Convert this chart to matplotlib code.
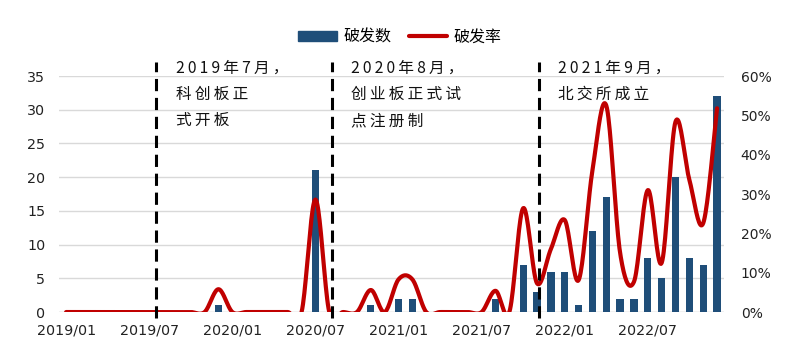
import matplotlib
matplotlib.use("Agg")
import matplotlib.pyplot as plt
import numpy as np
from matplotlib.lines import Line2D
from matplotlib.patches import Patch

plt.rcParams['font.family'] = ['Noto Sans CJK SC', 'DejaVu Sans']

# 2019/01 .. 2022/12, monthly
months = [f"{y}/{m:02d}" for y in range(2019, 2023) for m in range(1, 13)]
po_count = [0, 0, 0, 0, 0, 0, 0, 0, 0, 0, 0, 1,
            0, 0, 0, 0, 0, 0, 21, 0, 0, 0, 1, 0,
            2, 2, 0, 0, 0, 0, 0, 2, 0, 7, 3, 6,
            6, 1, 12, 17, 2, 2, 8, 5, 20, 8, 7, 32]
po_rate = [0, 0, 0, 0, 0, 0, 0, 0, 0, 0, 0, 5.8,
           0, 0, 0, 0, 0, 0, 28.6, 0, 0, 0, 5.6, 0,
           8.3, 8.3, 0, 0, 0, 0, 0, 5.4, 0, 26.4, 7.3, 16.0,
           23.4, 8.1, 36.0, 52.5, 15.0, 7.7, 31.0, 12.5, 48.4, 33.6, 22.6, 51.8]
tick_idx = list(range(0, 48, 6))
events = [(6.5, ["2019年7月，", "科创板正", "式开板"]),
          (19.2, ["2020年8月，", "创业板正式试", "点注册制"]),
          (34.15, ["2021年9月，", "北交所成立"])]

BLUE = "#1F4E79"
RED = "#C00000"


def smooth(x, y, n=20):
    # catmull-rom, like excel's smoothed line
    x = np.asarray(x, float)
    y = np.asarray(y, float)
    px = np.concatenate([[x[0]], x, [x[-1]]])
    py = np.concatenate([[y[0]], y, [y[-1]]])
    xs, ys = [], []
    t = np.linspace(0, 1, n, endpoint=False)
    for i in range(1, len(px) - 2):
        for p, out in ((px, xs), (py, ys)):
            p0, p1, p2, p3 = p[i - 1], p[i], p[i + 1], p[i + 2]
            out.extend(0.5 * (2 * p1 + (-p0 + p2) * t
                              + (2 * p0 - 5 * p1 + 4 * p2 - p3) * t ** 2
                              + (-p0 + 3 * p1 - 3 * p2 + p3) * t ** 3))
    xs.append(x[-1])
    ys.append(y[-1])
    return np.array(xs), np.array(ys)


def spaced(s):
    # the original text is letter-spaced
    return "\u2009".join(s)


fig = plt.figure(figsize=(8, 3.62), dpi=100)
ax = fig.add_axes([0.074, 0.138, 0.831, 0.652])
ax2 = ax.twinx()

x = np.arange(len(months))
ax.bar(x, po_count, width=0.53, color=BLUE, zorder=3)
ax.set_xlim(-0.5, 47.5)
ax.set_ylim(0, 35)
ax.set_yticks(range(0, 36, 5))
ax.grid(axis='y', color='#D9D9D9', lw=1, zorder=0)
ax.set_xticks(tick_idx)
ax.set_xticklabels([months[i] for i in tick_idx])
for s in ax.spines.values():
    s.set_visible(False)
for s in ax2.spines.values():
    s.set_visible(False)
ax.axhline(0, color='#D9D9D9', lw=1, zorder=2)
ax.tick_params(length=0, labelsize=10.3, labelcolor='#222222')
ax.tick_params(axis='y', pad=10)
ax.tick_params(axis='x', pad=8)
for lab in ax.get_xticklabels() + ax.get_yticklabels():
    lab.set_family('DejaVu Sans')

sx, sy = smooth(x, po_rate)
ax2.plot(sx, sy, color=RED, lw=3, solid_capstyle='round', zorder=4)
ax2.set_ylim(0, 60)
ax2.set_yticks(range(0, 61, 10))
ax2.set_yticklabels([f"{v}%" for v in range(0, 61, 10)])
ax2.tick_params(length=0, labelsize=10, labelcolor='#222222', pad=12)
for lab in ax2.get_yticklabels():
    lab.set_family('DejaVu Sans')
ax2.patch.set_visible(False)

trans = ax.get_xaxis_transform()
for xe, lines in events:
    ax2.add_line(Line2D([xe, xe], [-0.025, 1.06], transform=trans, color='black',
                        lw=2.2, ls=(0, (4, 2.2)), clip_on=False, zorder=5))
    txt = "\n".join(spaced(l) for l in lines)
    ax2.text(xe + 1.4, 1.07, txt, transform=trans, ha='left', va='top',
             fontsize=11.3, linespacing=1.72, color='#111111')

handles = [Patch(color=BLUE), Line2D([], [], color=RED, lw=3, solid_capstyle='round')]
fig.legend(handles, ["破发数", "破发率"], loc='center', bbox_to_anchor=(0.5, 0.897),
           ncol=2, frameon=False, fontsize=11.5, handlelength=2.4, handleheight=0.6,
           columnspacing=1.1, handletextpad=0.4)

fig.savefig("out.png", dpi=100)
